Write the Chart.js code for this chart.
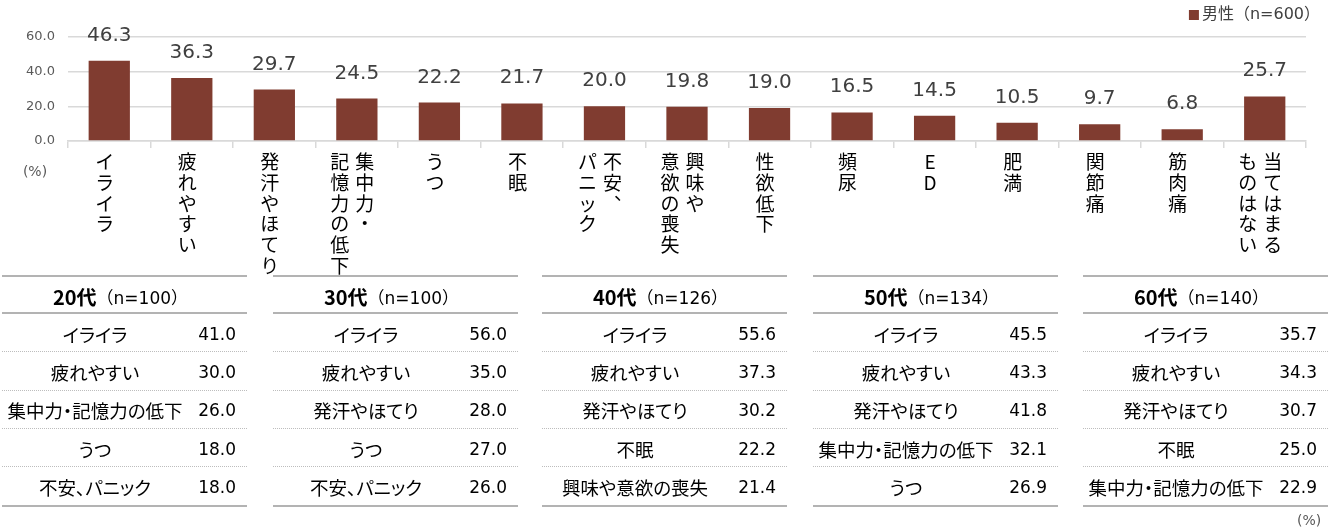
<!DOCTYPE html>
<html><head><meta charset="utf-8">
<script src="https://cdn.jsdelivr.net/npm/chart.js@4.4.1/dist/chart.umd.min.js"></script>
<style>
html,body{margin:0;padding:0;background:#fff;}
#wrap{position:relative;width:1336px;height:531px;overflow:hidden;}
#c{position:absolute;left:0;top:0;}
.tb{position:absolute;top:275px;width:245px;border-top:2px solid #b3b3b3;border-bottom:2px solid #b3b3b3;font-family:"Noto Sans CJK JP";color:#000;}
.tt{height:37px;border-bottom:2px solid #b3b3b3;display:flex;align-items:center;justify-content:center;padding-top:3px;padding-right:8px;box-sizing:border-box;}
.tt b{font-size:20px;font-weight:700;}
.tt span{font-family:"DejaVu Sans","Noto Sans CJK JP";font-size:17px;color:#000;}
.row{height:38.3px;display:flex;align-items:center;border-bottom:1px dotted #bdbdbd;box-sizing:border-box;padding-top:2px;}
.row:last-child{border-bottom:none;}
.lab{width:186px;text-align:center;font-size:18.5px;white-space:nowrap;font-feature-settings:"palt";}
.val{flex:1;text-align:right;padding-right:11px;font-family:"DejaVu Sans";font-size:17px;}
#pct{position:absolute;left:1297px;top:512px;font-family:"DejaVu Sans";font-size:14px;color:#595959;}
</style>
</head><body>
<div id="wrap">
<canvas id="c" width="1336" height="531"></canvas>
<div id="pct">(%)</div>
</div>
<script>
// ---- Data ----
const categories = ['イライラ','疲れやすい','発汗やほてり','集中力・記憶力の低下','うつ','不眠','不安、パニック','興味や意欲の喪失','性欲低下','頻尿','ED','肥満','関節痛','筋肉痛','当てはまるものはない'];
// vertical columns (first = rightmost column)
const categoryColumns = [['イライラ'],['疲れやすい'],['発汗やほてり'],['集中力・','記憶力の低下'],['うつ'],['不眠'],['不安、','パニック'],['興味や','意欲の喪失'],['性欲低下'],['頻尿'],['ED'],['肥満'],['関節痛'],['筋肉痛'],['当てはまる','ものはない']];
const seriesName = '男性（n=600）';
const maleValues = [46.3,36.3,29.7,24.5,22.2,21.7,20.0,19.8,19.0,16.5,14.5,10.5,9.7,6.8,25.7];
const yTickValues = [0,20,40,60];

const ageGroups = ['20代','30代','40代','50代','60代'];
const ageN = [100,100,126,134,140];
const ageItems = [
  ['イライラ','疲れやすい','集中力・記憶力の低下','うつ','不安、パニック'],
  ['イライラ','疲れやすい','発汗やほてり','うつ','不安、パニック'],
  ['イライラ','疲れやすい','発汗やほてり','不眠','興味や意欲の喪失'],
  ['イライラ','疲れやすい','発汗やほてり','集中力・記憶力の低下','うつ'],
  ['イライラ','疲れやすい','発汗やほてり','不眠','集中力・記憶力の低下']
];
const ageValues = [
  [41.0,30.0,26.0,18.0,18.0],
  [56.0,35.0,28.0,27.0,26.0],
  [55.6,37.3,30.2,22.2,21.4],
  [45.5,43.3,41.8,32.1,26.9],
  [35.7,34.3,30.7,25.0,22.9]
];
const tableLefts = [2,273,542,813,1083];

// ---- Tables ----
const wrap = document.getElementById('wrap');
ageGroups.forEach((g,t)=>{
  const d = document.createElement('div');
  d.className='tb'; d.style.left = tableLefts[t]+'px';
  let h = '<div class="tt"><b>'+g+'</b><span>（n='+ageN[t]+'）</span></div>';
  ageItems[t].forEach((it,r)=>{
    h += '<div class="row"><div class="lab">'+it+'</div><div class="val">'+ageValues[t][r].toFixed(1)+'</div></div>';
  });
  d.innerHTML = h;
  wrap.appendChild(d);
});

// ---- Plugins ----
const vLabels = {
  id:'vLabels',
  afterDraw(chart){
    const ctx=chart.ctx, xs=chart.scales.x, base=chart.chartArea.bottom;
    ctx.save();
    ctx.font='19px "Noto Sans CJK JP"'; ctx.fillStyle='#000'; ctx.textAlign='center'; ctx.textBaseline='middle';
    categoryColumns.forEach((cols,i)=>{
      const cx = xs.getPixelForValue(i) - 4.5;
      cols.forEach((col,j)=>{
        const colX = cols.length===1 ? cx : cx + 12.5 - j*25;
        [...col].forEach((ch,k)=>{
          const cy = base + 21 + k*20.7;
          if(ch==='、') ctx.fillText(ch, colX+11, cy-11);
          else ctx.fillText(ch, colX, cy);
        });
      });
    });
    // (%) under y axis
    ctx.font='14px "DejaVu Sans"'; ctx.fillStyle='#595959';
    ctx.fillText('(%)', 35, base+31);
    // legend
    ctx.textAlign='right'; ctx.font='16px "DejaVu Sans", "Noto Sans CJK JP"'; ctx.fillStyle='#404040';
    const tw = ctx.measureText(seriesName).width;
    ctx.fillText(seriesName, 1320, 15);
    ctx.fillStyle = chart.data.datasets[0].backgroundColor;
    ctx.fillRect(1320 - tw - 13, 10, 10, 10);
    ctx.restore();
  }
};
const dataLabels = {
  id:'dataLabels',
  afterDatasetsDraw(chart){
    const ctx=chart.ctx; const meta=chart.getDatasetMeta(0);
    ctx.save(); ctx.font='20px "DejaVu Sans"'; ctx.fillStyle='#404040'; ctx.textAlign='center'; ctx.textBaseline='alphabetic';
    meta.data.forEach((bar,i)=>{ ctx.fillText(maleValues[i].toFixed(1), bar.x, bar.y-20); });
    ctx.restore();
  }
};

new Chart(document.getElementById('c'),{
  type:'bar',
  data:{labels:categories, datasets:[{label:seriesName, data:maleValues, backgroundColor:'#803C30', borderWidth:0, categoryPercentage:1, barPercentage:0.5}]},
  options:{
    responsive:false, animation:false,
    layout:{padding:{top:37,left:0,right:30,bottom:0}},
    plugins:{legend:{display:false}, tooltip:{enabled:false}},
    scales:{
      x:{ticks:{display:false}, grid:{display:true, drawOnChartArea:false, drawTicks:true, tickLength:7, color:'#d9d9d9', lineWidth:1.5, offset:true},
         border:{display:true,color:'#d9d9d9',width:1.5},
         afterFit(s){ s.height = 390; }},
      y:{min:0,max:60, afterBuildTicks(s){ s.ticks = yTickValues.map(v=>({value:v})); },
         ticks:{padding:13, color:'#595959', font:{family:'DejaVu Sans', size:13}, callback:v=>Number(v).toFixed(1)},
         grid:{color:'#d9d9d9', lineWidth:1.5, drawTicks:false}, border:{display:false},
         afterFit(s){ s.width = 68; }}
    }
  },
  plugins:[dataLabels, vLabels]
});
</script>
</body></html>
